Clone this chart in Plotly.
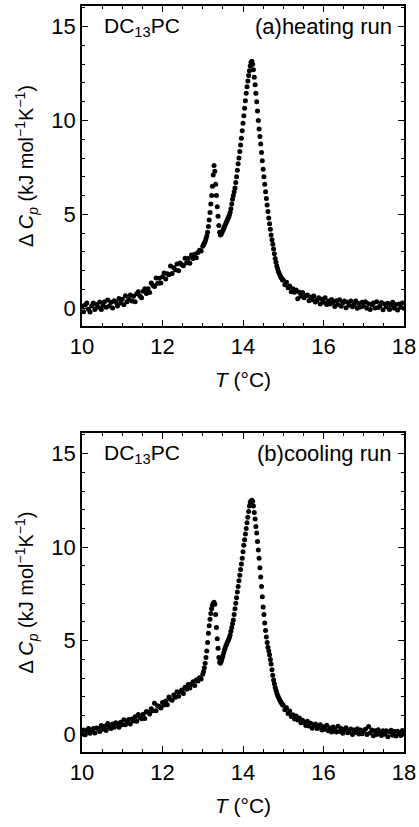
import plotly.graph_objects as go

# ---------------- data ----------------
heat_T = [
    10.00, 10.04, 10.08, 10.12, 10.16, 10.20, 10.24, 10.28, 10.32, 10.36, 10.40, 10.44, 10.48, 10.52, 10.56, 10.60,
    10.64, 10.68, 10.72, 10.76, 10.80, 10.84, 10.88, 10.92, 10.96, 11.00, 11.04, 11.08, 11.12, 11.16, 11.20, 11.24,
    11.28, 11.32, 11.36, 11.40, 11.44, 11.48, 11.52, 11.56, 11.60, 11.64, 11.68, 11.72, 11.76, 11.80, 11.84, 11.88,
    11.92, 11.96, 12.00, 12.04, 12.08, 12.12, 12.16, 12.20, 12.24, 12.28, 12.32, 12.36, 12.40, 12.44, 12.48, 12.52,
    12.56, 12.60, 12.64, 12.68, 12.72, 12.76, 12.80, 12.84, 12.88, 12.92, 12.96,
    13.00, 13.02, 13.04, 13.06, 13.08, 13.10, 13.12, 13.14, 13.16, 13.18, 13.20, 13.22, 13.24, 13.26, 13.28, 13.30,
    13.32, 13.34, 13.36, 13.38, 13.40, 13.42, 13.44, 13.46, 13.48, 13.50, 13.52, 13.54, 13.56, 13.58, 13.60, 13.62,
    13.64, 13.66, 13.68, 13.70, 13.72, 13.74, 13.76, 13.78, 13.80, 13.82, 13.84, 13.86, 13.88, 13.90, 13.92, 13.94,
    13.96, 13.98, 14.00, 14.02, 14.04, 14.06, 14.08, 14.10, 14.12, 14.14, 14.16, 14.18, 14.20, 14.22, 14.24, 14.26,
    14.28, 14.30, 14.32, 14.34, 14.36, 14.38, 14.40, 14.42, 14.44, 14.46, 14.48, 14.50, 14.52, 14.54, 14.56, 14.58,
    14.60, 14.62, 14.64, 14.66, 14.68, 14.70, 14.72, 14.74, 14.76, 14.78, 14.80, 14.82, 14.84, 14.86, 14.88, 14.90,
    14.92, 14.94, 14.96, 14.98,
    15.00, 15.04, 15.08, 15.12, 15.16, 15.20, 15.24, 15.28, 15.32, 15.36, 15.40, 15.44, 15.48, 15.52, 15.56, 15.60,
    15.64, 15.68, 15.72, 15.76, 15.80, 15.84, 15.88, 15.92, 15.96, 16.00, 16.04, 16.08, 16.12, 16.16, 16.20, 16.24,
    16.28, 16.32, 16.36, 16.40, 16.44, 16.48, 16.52, 16.56, 16.60, 16.64, 16.68, 16.72, 16.76, 16.80, 16.84, 16.88,
    16.92, 16.96, 17.00, 17.04, 17.08, 17.12, 17.16, 17.20, 17.24, 17.28, 17.32, 17.36, 17.40, 17.44, 17.48, 17.52,
    17.56, 17.60, 17.64, 17.68, 17.72, 17.76, 17.80, 17.84, 17.88, 17.92, 17.96, 18.00,
]
heat_Cp = [
    0.10, -0.19, 0.17, 0.28, -0.06, -0.20, 0.11, 0.27, -0.07, 0.19, 0.05, 0.33, -0.07, 0.14, 0.34, 0.05,
    0.44, 0.12, 0.32, 0.01, 0.40, 0.32, 0.11, 0.51, 0.28, 0.47, 0.18, 0.66, 0.34, 0.47, 0.70, 0.38,
    0.64, 0.34, 0.77, 0.87, 0.65, 0.55, 0.90, 1.03, 0.78, 1.03, 0.84, 1.34, 1.22, 1.15, 1.61, 1.32,
    1.60, 1.34, 1.68, 1.87, 1.56, 1.83, 1.78, 2.25, 1.85, 2.15, 2.05, 2.35, 2.00, 2.41, 2.32, 2.26,
    2.66, 2.42, 2.65, 2.40, 2.83, 2.65, 2.87, 2.68, 2.96, 3.09, 3.05,
    3.30, 3.38, 3.46, 3.56, 3.70, 3.85, 4.05, 4.35, 4.70, 5.10, 5.55, 6.00, 6.50, 7.10, 7.60, 7.30,
    6.60, 6.00, 5.40, 4.90, 4.40, 4.05, 3.90, 3.95, 4.05, 4.15, 4.25, 4.35, 4.45, 4.55, 4.65, 4.75,
    4.85, 4.95, 5.10, 5.30, 5.55, 5.80, 6.00, 6.20, 6.40, 6.70, 7.00, 7.35, 7.70, 8.00, 8.35, 8.70,
    9.05, 9.45, 9.85, 10.25, 10.65, 11.05, 11.45, 11.80, 12.10, 12.40, 12.65, 12.90, 13.10, 13.15, 13.00, 12.70,
    12.30, 11.90, 11.45, 11.00, 10.50, 10.00, 9.55, 9.15, 8.75, 8.30, 7.85, 7.40, 7.00, 6.60, 6.20, 5.85,
    5.50, 5.15, 4.80, 4.50, 4.20, 3.90, 3.65, 3.40, 3.15, 2.90, 2.65, 2.45, 2.25, 2.10, 1.95, 1.85,
    1.75, 1.65, 1.60, 1.50,
    1.50, 1.25, 1.38, 1.09, 1.18, 0.88, 1.03, 0.85, 0.97, 0.50, 0.85, 0.64, 0.83, 0.55, 0.66, 0.70,
    0.40, 0.60, 0.45, 0.65, 0.33, 0.43, 0.56, 0.22, 0.48, 0.32, 0.56, 0.19, 0.38, 0.22, 0.46, 0.30,
    0.09, 0.40, 0.19, 0.45, 0.10, 0.29, 0.38, 0.02, 0.32, 0.16, 0.38, 0.07, 0.19, 0.38, -0.01, 0.25,
    0.06, 0.31, 0.10, 0.34, -0.01, 0.24, -0.07, 0.18, 0.28, 0.01, 0.34, 0.04, 0.12, 0.30, -0.08, 0.22,
    0.07, 0.26, -0.07, 0.16, 0.31, -0.01, 0.20, -0.10, 0.22, 0.05, 0.28, 0.00,
]

cool_T = [
    10.00, 10.04, 10.08, 10.12, 10.16, 10.20, 10.24, 10.28, 10.32, 10.36, 10.40, 10.44, 10.48, 10.52, 10.56, 10.60,
    10.64, 10.68, 10.72, 10.76, 10.80, 10.84, 10.88, 10.92, 10.96, 11.00, 11.04, 11.08, 11.12, 11.16, 11.20, 11.24,
    11.28, 11.32, 11.36, 11.40, 11.44, 11.48, 11.52, 11.56, 11.60, 11.64, 11.68, 11.72, 11.76, 11.80, 11.84, 11.88,
    11.92, 11.96, 12.00, 12.04, 12.08, 12.12, 12.16, 12.20, 12.24, 12.28, 12.32, 12.36, 12.40, 12.44, 12.48, 12.52,
    12.56, 12.60, 12.64, 12.68, 12.72, 12.76, 12.80, 12.84, 12.88, 12.92, 12.96,
    13.00, 13.02, 13.04, 13.06, 13.08, 13.10, 13.12, 13.14, 13.16, 13.18, 13.20, 13.22, 13.24, 13.26, 13.28, 13.30,
    13.32, 13.34, 13.36, 13.38, 13.40, 13.42, 13.44, 13.46, 13.48, 13.50, 13.52, 13.54, 13.56, 13.58, 13.60, 13.62,
    13.64, 13.66, 13.68, 13.70, 13.72, 13.74, 13.76, 13.78, 13.80, 13.82, 13.84, 13.86, 13.88, 13.90, 13.92, 13.94,
    13.96, 13.98, 14.00, 14.02, 14.04, 14.06, 14.08, 14.10, 14.12, 14.14, 14.16, 14.18, 14.20, 14.22, 14.24, 14.26,
    14.28, 14.30, 14.32, 14.34, 14.36, 14.38, 14.40, 14.42, 14.44, 14.46, 14.48, 14.50, 14.52, 14.54, 14.56, 14.58,
    14.60, 14.62, 14.64, 14.66, 14.68, 14.70, 14.72, 14.74, 14.76, 14.78, 14.80, 14.82, 14.84, 14.86, 14.88, 14.90,
    14.92, 14.94, 14.96, 14.98,
    15.00, 15.04, 15.08, 15.12, 15.16, 15.20, 15.24, 15.28, 15.32, 15.36, 15.40, 15.44, 15.48, 15.52, 15.56, 15.60,
    15.64, 15.68, 15.72, 15.76, 15.80, 15.84, 15.88, 15.92, 15.96, 16.00, 16.04, 16.08, 16.12, 16.16, 16.20, 16.24,
    16.28, 16.32, 16.36, 16.40, 16.44, 16.48, 16.52, 16.56, 16.60, 16.64, 16.68, 16.72, 16.76, 16.80, 16.84, 16.88,
    16.92, 16.96, 17.00, 17.04, 17.08, 17.12, 17.16, 17.20, 17.24, 17.28, 17.32, 17.36, 17.40, 17.44, 17.48, 17.52,
    17.56, 17.60, 17.64, 17.68, 17.72, 17.76, 17.80, 17.84, 17.88, 17.92, 17.96, 18.00,
]
cool_Cp = [
    0.00, 0.22, -0.03, 0.19, 0.31, 0.05, 0.17, 0.31, 0.06, 0.33, 0.30, 0.15, 0.47, 0.26, 0.43, 0.20,
    0.57, 0.39, 0.31, 0.55, 0.37, 0.62, 0.54, 0.37, 0.64, 0.51, 0.77, 0.51, 0.69, 0.79, 0.55, 0.81,
    0.71, 0.94, 0.70, 1.05, 0.89, 0.83, 1.07, 0.84, 1.22, 1.17, 1.08, 1.36, 1.25, 1.66, 1.25, 1.52,
    1.48, 1.40, 1.70, 1.56, 1.77, 1.58, 1.99, 1.85, 1.81, 2.09, 1.98, 2.27, 2.03, 2.26, 2.37, 2.18,
    2.51, 2.40, 2.66, 2.47, 2.68, 2.81, 2.60, 2.90, 2.85, 3.02, 2.95,
    3.20, 3.35, 3.55, 3.80, 4.10, 4.45, 4.90, 5.40, 5.80, 6.15, 6.45, 6.70, 6.90, 7.00, 7.05, 6.95,
    6.40, 5.70, 5.10, 4.60, 4.10, 3.85, 3.80, 3.90, 4.05, 4.20, 4.35, 4.50, 4.62, 4.75, 4.85, 4.95,
    5.05, 5.15, 5.30, 5.50, 5.70, 5.90, 6.10, 6.40, 6.70, 7.00, 7.30, 7.60, 7.90, 8.20, 8.50, 8.80,
    9.10, 9.40, 9.75, 10.10, 10.40, 10.70, 11.00, 11.30, 11.60, 11.90, 12.20, 12.40, 12.45, 12.50, 12.45, 12.20,
    11.85, 11.50, 11.10, 10.75, 10.30, 9.85, 9.40, 8.90, 8.40, 7.90, 7.35, 6.80, 6.40, 5.95, 5.55, 5.20,
    4.90, 4.65, 4.45, 4.25, 4.00, 3.75, 3.45, 3.15, 2.90, 2.70, 2.50, 2.35, 2.20, 2.08, 1.98, 1.88,
    1.80, 1.72, 1.65, 1.58,
    1.55, 1.31, 1.41, 1.11, 1.24, 0.95, 1.04, 0.81, 0.97, 0.76, 0.87, 0.61, 0.75, 0.63, 0.47, 0.70,
    0.44, 0.59, 0.32, 0.49, 0.54, 0.30, 0.38, 0.51, 0.22, 0.40, 0.26, 0.48, 0.19, 0.33, 0.12, 0.38,
    0.25, 0.12, 0.43, 0.14, 0.31, 0.05, 0.25, 0.34, 0.08, 0.17, 0.28, -0.02, 0.23, 0.09, 0.29, 0.01,
    0.23, 0.02, 0.17, 0.27, -0.01, 0.41, 0.06, 0.22, -0.08, 0.18, -0.01, 0.24, 0.09, -0.07, 0.18, 0.00,
    0.19, -0.13, 0.12, 0.21, -0.06, 0.14, -0.09, 0.16, 0.05, -0.07, 0.20, 0.00,
]

x_ticks = [10, 12, 14, 16, 18]
y_ticks = [0, 5, 10, 15]
panel_labels = ["(a)heating run", "(b)cooling run"]
sample_label = "DC<sub>13</sub>PC"

# ---------------- figure ----------------
W, H = 419, 827
FONT = "Liberation Sans, Arial, Helvetica, sans-serif"
ML, MR, MT, MB = 82, 15, 6, 75
PH = H - MT - MB

fig = go.Figure()
fig.add_trace(go.Scatter(x=heat_T, y=heat_Cp, mode="markers", xaxis="x", yaxis="y",
                         marker=dict(color="black", size=5), showlegend=False))
fig.add_trace(go.Scatter(x=cool_T, y=cool_Cp, mode="markers", xaxis="x2", yaxis="y2",
                         marker=dict(color="black", size=5), showlegend=False))

ydom1 = [(H - MB - 326) / PH, 1.0]
ydom2 = [0.0, (H - MB - 433) / PH]

def xaxis(anchor):
    return dict(domain=[0, 1], anchor=anchor, range=[10, 18], tickvals=x_ticks, automargin=False,
                ticks="inside", ticklen=6, tickwidth=1.2, tickcolor="black",
                minor=dict(dtick=0.5, tick0=10, ticks="inside", ticklen=3, tickwidth=1, tickcolor="black"),
                showline=True, linecolor="black", linewidth=1.5, mirror="allticks",
                showgrid=False, zeroline=False,
                tickfont=dict(family=FONT, size=22, color="black"),
                title=dict(text="<i>T</i> (°C)", font=dict(family=FONT, size=21, color="black"), standoff=14))

def yaxis(anchor, dom):
    return dict(domain=dom, anchor=anchor, range=[-0.95, 16.1], tickvals=y_ticks, automargin=False,
                ticks="inside", ticklen=6, tickwidth=1.2, tickcolor="black",
                minor=dict(dtick=1, tick0=0, ticks="inside", ticklen=3, tickwidth=1, tickcolor="black"),
                showline=True, linecolor="black", linewidth=1.5, mirror="allticks",
                showgrid=False, zeroline=False,
                tickfont=dict(family=FONT, size=22, color="black"),
                title=dict(text="Δ <i>C<sub>p</sub></i> (kJ mol<sup>−1</sup>K<sup>−1</sup>)",
                           font=dict(family=FONT, size=20, color="black"), standoff=12))

fig.update_layout(
    width=W, height=H,
    margin=dict(l=ML, r=MR, t=MT, b=MB),
    paper_bgcolor="white", plot_bgcolor="white",
    xaxis=xaxis("y"), yaxis=yaxis("x", ydom1),
    xaxis2=xaxis("y2"), yaxis2=yaxis("x2", ydom2),
)

for i, (xr, yr) in enumerate([("x", "y"), ("x2", "y2")]):
    fig.add_annotation(x=10.5, y=15.0, xref=xr, yref=yr, text=sample_label, showarrow=False,
                       xanchor="left", yanchor="middle", font=dict(family=FONT, size=21, color="black"))
    fig.add_annotation(x=17.75, y=15.0, xref=xr, yref=yr, text=panel_labels[i], showarrow=False,
                       xanchor="right", yanchor="middle", font=dict(family=FONT, size=22, color="black"))

fig.write_html("out.html", config={"displayModeBar": False},
               post_script="document.body.style.margin='0';document.body.style.padding='0';"
                           "document.body.style.overflow='hidden';")
